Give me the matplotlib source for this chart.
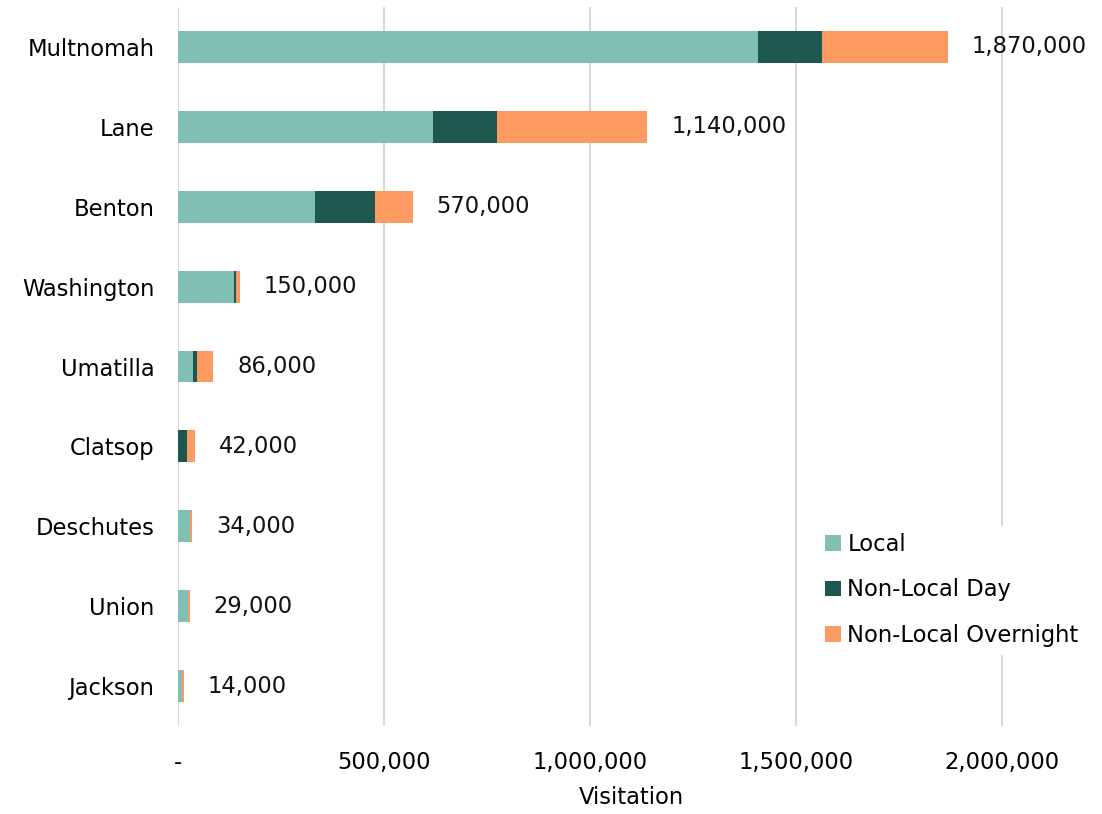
import matplotlib.pyplot as plt
from matplotlib.ticker import FuncFormatter

counties = ["Multnomah", "Lane", "Benton", "Washington", "Umatilla",
            "Clatsop", "Deschutes", "Union", "Jackson"]
local = [1408000, 619000, 333000, 136000, 36000, 1000, 28000, 24000, 9500]
nonlocal_day = [155000, 155000, 145000, 4000, 10000, 21000, 1000, 1000, 1000]
nonlocal_overnight = [307000, 366000, 92000, 10000, 40000, 20000, 5000, 4000, 3500]
totals = [1870000, 1140000, 570000, 150000, 86000, 42000, 34000, 29000, 14000]

colors = ["#7fbfb4", "#1e5650", "#fd9a62"]
fs = 16.3

plt.rcParams["font.family"] = ["DejaVu Sans"]

fig = plt.figure(figsize=(11.02, 8.14), dpi=100)
ax = fig.add_axes([178 / 1102, 1 - 726 / 814, 906 / 1102, 719 / 814])

y = list(range(len(counties)))
left_day = [a for a in local]
left_over = [a + b for a, b in zip(local, nonlocal_day)]

ax.barh(y, local, height=0.4, color=colors[0], label="Local", zorder=3)
ax.barh(y, nonlocal_day, left=left_day, height=0.4, color=colors[1],
        label="Non-Local Day", zorder=3)
ax.barh(y, nonlocal_overnight, left=left_over, height=0.4, color=colors[2],
        label="Non-Local Overnight", zorder=3)

for yi, t in zip(y, totals):
    ax.text(t + 58000, yi, f"{t:,}", va="center", ha="left", fontsize=fs,
            color="#111111", zorder=4)

ax.set_yticks(y)
ax.set_yticklabels(counties, fontsize=fs)
ax.set_ylim(len(counties) - 0.5, -0.5)

ax.set_xlim(0, 2200000)
ax.set_xticks([0, 500000, 1000000, 1500000, 2000000])
ax.xaxis.set_major_formatter(FuncFormatter(lambda v, p: "-" if v == 0 else f"{int(v):,}"))
ax.tick_params(axis="x", labelsize=fs, length=0, pad=18)
ax.tick_params(axis="y", length=0, pad=17)
ax.set_xlabel("Visitation", fontsize=fs, labelpad=9)

ax.grid(axis="x", color="#d9d9d9", linewidth=1.5, zorder=0)
for s in ["top", "right", "bottom", "left"]:
    ax.spines[s].set_visible(False)

leg = ax.legend(loc="upper left", bbox_to_anchor=(818 / 1102, 1 - 526 / 814),
                bbox_transform=fig.transFigure, fontsize=fs, frameon=True,
                handlelength=0.7, handleheight=0.7, handletextpad=0.3,
                labelspacing=1.0, borderpad=0.3, borderaxespad=0)
leg.get_frame().set_facecolor("white")
leg.get_frame().set_edgecolor("white")
leg.get_frame().set_alpha(1)
leg.set_zorder(5)

fig.savefig("out.png", dpi=100)
